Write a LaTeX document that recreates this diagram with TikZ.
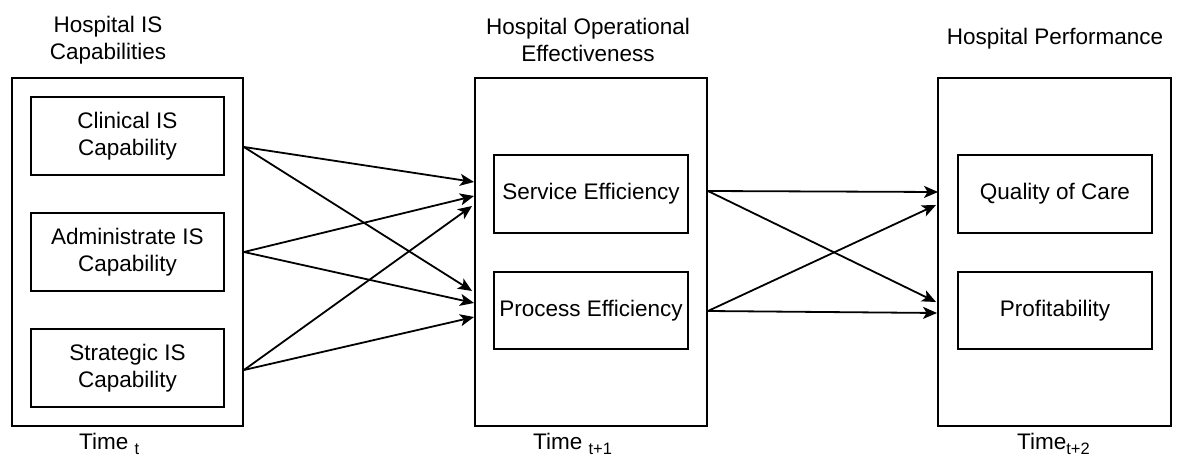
\documentclass[tikz,border=0pt]{standalone}
\usepackage{fontspec}
\setmainfont{Liberation Sans}
\usetikzlibrary{arrows.meta}
\newcommand{\tsub}[1]{\raisebox{-5pt}{\fontsize{16.5}{16.5}\selectfont #1}}
\begin{document}
\begin{tikzpicture}[x=1pt,y=-1pt,
  every node/.style={font=\fontsize{22.5}{27.5}\selectfont},
  group/.style={draw, line width=1.9pt, inner sep=0pt},
  item/.style={draw, line width=1.9pt, inner sep=0pt, align=center,
    minimum width=193pt, minimum height=78pt},
  label/.style={align=center, inner sep=0pt},
  link/.style={line width=1.8pt, -{Stealth[length=14pt,width=12pt,inset=3.5pt]}}]
\useasboundingbox (0,0) rectangle (1179,457);

% column titles
\node[label] (t1) at (108,40) {Hospital IS\\Capabilities};
\node[label] (t2) at (588,40) {Hospital Operational\\Effectiveness};
\node[label] (t3) at (1055,39) {Hospital Performance};

% outer group frames
\node[group, minimum width=231pt, minimum height=348pt] (L) at (127.5,252) {};
\node[group, minimum width=232pt, minimum height=348pt] (M) at (591,252) {};
\node[group, minimum width=233pt, minimum height=348pt] (R) at (1054.5,252) {};

% constructs
\node[item] (clin) at (127.5,136) {Clinical IS\\Capability};
\node[item] (adm)  at (127.5,252) {Administrate IS\\Capability};
\node[item] (str)  at (127.5,368) {Strategic IS\\Capability};
\node[item, minimum width=194pt] (serv) at (591,194) {Service Efficiency};
\node[item, minimum width=194pt, minimum height=77pt] (proc) at (591,310.5) {Process Efficiency};
\node[item, minimum width=194pt] (qual) at (1055,194) {Quality of Care};
\node[item, minimum width=194pt, minimum height=77pt] (prof) at (1055,310.5) {Profitability};

% time labels
\node[anchor=base west, inner sep=0pt] (time1) at (79,449) {Time \tsub{t}};
\node[anchor=base west, inner sep=0pt] (time2) at (533,449) {Time \tsub{t+1}};
\node[anchor=base west, inner sep=0pt] (time3) at (1017,449) {Time\tsub{t+2}};

% connector ends on the frame edges
\coordinate (sc) at ([yshift=-11pt]L.east |- clin.center);
\coordinate (sa) at (L.east |- adm.center);
\coordinate (ss) at ([yshift=-2pt]L.east |- str.center);
\coordinate (e1) at ([yshift=12pt]M.west |- serv.center);
\coordinate (e2) at ([yshift=-2pt]M.west |- serv.center);
\coordinate (e3) at ([xshift=-2pt,yshift=-12pt]M.west |- serv.center);
\coordinate (e4) at ([xshift=-2pt,yshift=19.5pt]M.west |- proc.center);
\coordinate (e5) at ([yshift=7.5pt]M.west |- proc.center);
\coordinate (e6) at ([yshift=-6.5pt]M.west |- proc.center);
\coordinate (so) at ([yshift=3pt]M.east |- serv.center);
\coordinate (po) at ([yshift=-0.5pt]M.east |- proc.center);
\coordinate (q1) at ([xshift=1pt,yshift=2pt]R.west |- qual.center);
\coordinate (q2) at ([xshift=-1pt,yshift=-11pt]R.west |- qual.center);
\coordinate (p1) at ([xshift=-1pt,yshift=8.5pt]R.west |- prof.center);
\coordinate (p2) at ([yshift=-2.5pt]R.west |- prof.center);

% paths from capabilities to effectiveness
\draw[link] (sc) -- (e1);
\draw[link] (sc) -- (e4);
\draw[link] (sa) -- (e2);
\draw[link] (sa) -- (e5);
\draw[link] (ss) -- (e3);
\draw[link] (ss) -- (e6);

% paths from effectiveness to performance
\draw[link] (so) -- (q1);
\draw[link] (so) -- (p1);
\draw[link] (po) -- (q2);
\draw[link] (po) -- (p2);
\end{tikzpicture}
\end{document}
